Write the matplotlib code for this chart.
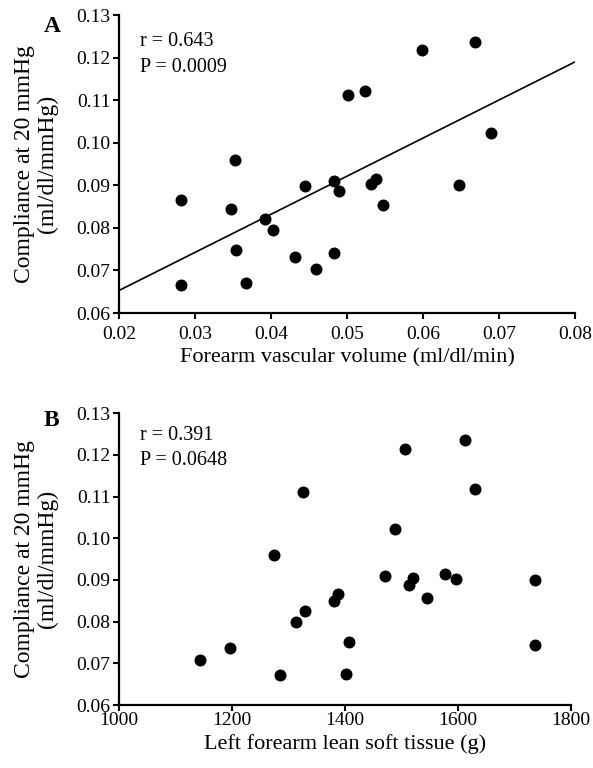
import matplotlib
matplotlib.use("Agg")
from matplotlib import pyplot as plt

plt.rcParams["font.family"] = ["Liberation Serif", "DejaVu Serif"]

# Panel A: forearm vascular volume vs compliance
vol = [0.0281, 0.0282, 0.0352, 0.0347, 0.0354, 0.0367, 0.0392, 0.0402,
       0.0432, 0.0445, 0.0459, 0.0483, 0.0483, 0.0489, 0.0501, 0.0524,
       0.0531, 0.0538, 0.0547, 0.0598, 0.0647, 0.0668, 0.0689]
comp_a = [0.0865, 0.0667, 0.0960, 0.0845, 0.0748, 0.0671, 0.0821, 0.0794,
          0.0731, 0.0899, 0.0703, 0.0910, 0.0742, 0.0886, 0.1113, 0.1122,
          0.0902, 0.0916, 0.0853, 0.1218, 0.0901, 0.1237, 0.1022]
fit_x = [0.02, 0.08]
fit_y = [0.0653, 0.1190]

# Panel B: left forearm lean soft tissue vs compliance
lean = [1143, 1197, 1285, 1274, 1313, 1326, 1329, 1381, 1388, 1402, 1407,
        1471, 1488, 1506, 1514, 1520, 1545, 1577, 1597, 1612, 1630, 1737, 1737]
comp_b = [0.0709, 0.0737, 0.0671, 0.0961, 0.0799, 0.1111, 0.0825, 0.0849,
          0.0867, 0.0675, 0.0752, 0.0910, 0.1022, 0.1215, 0.0889, 0.0905,
          0.0856, 0.0915, 0.0903, 0.1235, 0.1117, 0.0899, 0.0744]

yticks = [0.06, 0.07, 0.08, 0.09, 0.10, 0.11, 0.12, 0.13]
ylabels = ["0.06", "0.07", "0.08", "0.09", "0.10", "0.11", "0.12", "0.13"]
xticks_a = [0.02, 0.03, 0.04, 0.05, 0.06, 0.07, 0.08]
xlabels_a = ["0.02", "0.03", "0.04", "0.05", "0.06", "0.07", "0.08"]
xticks_b = [1000, 1200, 1400, 1600, 1800]

ylab = "Compliance at 20 mmHg\n(ml/dl/mmHg)"

fig = plt.figure(figsize=(5.93, 7.68), dpi=100)
ax_a = fig.add_axes([0.2007, 0.5924, 0.769, 0.388])
ax_b = fig.add_axes([0.2007, 0.082, 0.762, 0.380])


def style(ax, xpad):
    for side in ("top", "right"):
        ax.spines[side].set_visible(False)
    for side in ("left", "bottom"):
        ax.spines[side].set_linewidth(1.6)
    ax.tick_params(direction="out", length=4, width=1.5, labelsize=14)
    ax.tick_params(axis="y", pad=2)
    ax.tick_params(axis="x", pad=xpad)
    ax.set_yticks(yticks)
    ax.set_yticklabels(ylabels)
    ax.set_ylim(0.06, 0.13)
    # y label as figure text so both panels line up
    bb = ax.get_position()
    fig.text(36 / 593, (bb.y0 + bb.y1) / 2, ylab, rotation=90, fontsize=17,
             ha="center", va="center", linespacing=1.15, multialignment="center")


ax_a.scatter(vol, comp_a, s=58, color="black", zorder=3)
ax_a.plot(fit_x, fit_y, color="black", linewidth=1.2)
ax_a.set_xlim(0.02, 0.08)
ax_a.set_xticks(xticks_a)
ax_a.set_xticklabels(xlabels_a)
style(ax_a, 5)
ax_a.set_xlabel("Forearm vascular volume (ml/dl/min)", fontsize=16, labelpad=4)
ax_a.text(0.046, 0.91, "r = 0.643", transform=ax_a.transAxes, fontsize=14.5, va="center")
ax_a.text(0.046, 0.825, "P = 0.0009", transform=ax_a.transAxes, fontsize=14.5, va="center")
fig.text(52 / 593, 1 - 27 / 768, "A", fontsize=17, fontweight="bold", ha="center", va="center")

ax_b.scatter(lean, comp_b, s=58, color="black", zorder=3)
ax_b.set_xlim(1000, 1800)
ax_b.set_xticks(xticks_b)
style(ax_b, 1)
ax_b.set_xlabel("Left forearm lean soft tissue (g)", fontsize=16, labelpad=4)
ax_b.text(0.046, 0.925, "r = 0.391", transform=ax_b.transAxes, fontsize=14.5, va="center")
ax_b.text(0.046, 0.839, "P = 0.0648", transform=ax_b.transAxes, fontsize=14.5, va="center")
fig.text(51 / 593, 1 - 420 / 768, "B", fontsize=17, fontweight="bold", ha="center", va="center")

fig.savefig("out.png", dpi=100)
